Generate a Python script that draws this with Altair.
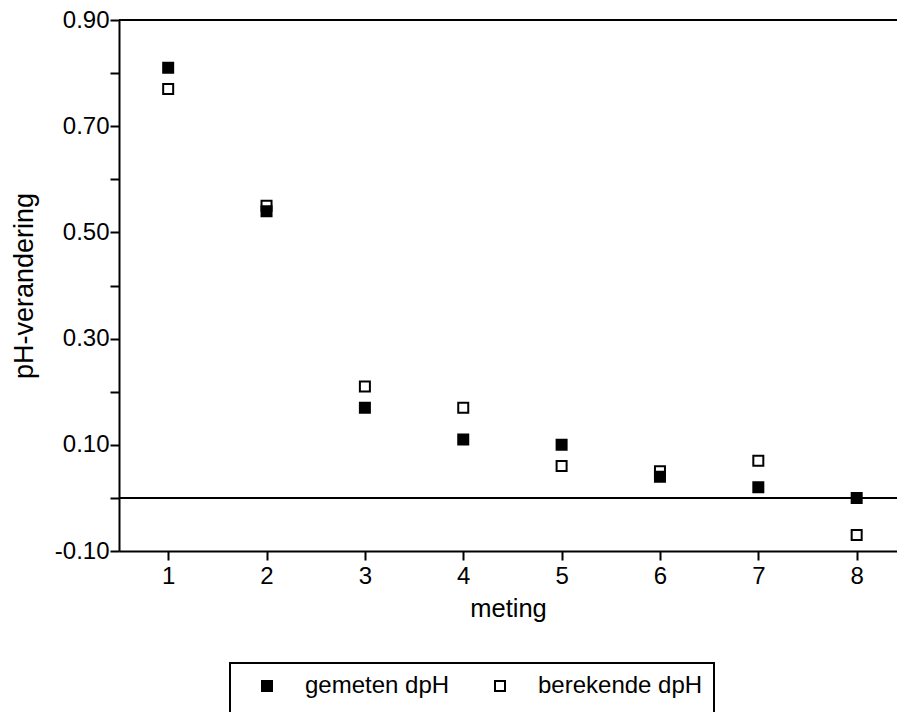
import altair as alt
import pandas as pd

meting = [1, 2, 3, 4, 5, 6, 7, 8]
gemeten = [0.81, 0.54, 0.17, 0.11, 0.10, 0.04, 0.02, 0.00]
berekende = [0.77, 0.55, 0.21, 0.17, 0.06, 0.05, 0.07, -0.07]
series_names = ["gemeten dpH", "berekende dpH"]
y_ticks = [-0.1, 0.0, 0.1, 0.2, 0.3, 0.4, 0.5, 0.6, 0.7, 0.8, 0.9]
x_ticks = [1, 2, 3, 4, 5, 6, 7, 8]
ref_lines = [0.9, 0.0]

rows = []
for m, v in zip(meting, berekende):
    rows.append({"meting": m, "dpH": v, "serie": series_names[1]})
for m, v in zip(meting, gemeten):
    rows.append({"meting": m, "dpH": v, "serie": series_names[0]})
df = pd.DataFrame(rows)

FONT = "Liberation Sans"

xscale = alt.Scale(domain=[0.5, 8.41], nice=False, zero=False)
yscale = alt.Scale(domain=[-0.1, 0.9], nice=False, zero=False)

points = alt.Chart(df).mark_point(
    shape="square", filled=True, size=100, stroke="black", strokeWidth=2, opacity=1
).encode(
    x=alt.X("meting:Q", scale=xscale,
            axis=alt.Axis(title="meting", values=x_ticks, format="d")),
    y=alt.Y("dpH:Q", scale=yscale,
            axis=alt.Axis(
                title="pH-verandering", values=y_ticks,
                labelExpr="abs(round(datum.value*10)) % 2 == 1 ? (datum.value < 0 ? '-' + format(-datum.value, '.2f') : format(datum.value, '.2f')) : ''")),
    fill=alt.Fill("serie:N",
                  scale=alt.Scale(domain=series_names, range=["black", "white"]),
                  legend=alt.Legend(title=" ", titleOrient="bottom")),
)

rules = alt.Chart(pd.DataFrame({"v": ref_lines})).mark_rule(
    color="black", strokeWidth=2
).encode(y=alt.Y("v:Q", scale=yscale))

chart = alt.layer(rules, points).properties(
    width=778,
    height=531,
    autosize=alt.AutoSizeParams(type="none"),
    padding={"left": 119, "top": 20, "right": 0, "bottom": 161},
    background="white",
).configure_view(
    stroke=None
).configure_axis(
    grid=False,
    domainColor="black",
    domainWidth=2,
    tickColor="black",
    tickWidth=2,
    tickSize=9,
    labelColor="black",
    labelFont=FONT,
    labelFontSize=24,
    titleColor="black",
    titleFont=FONT,
    titleFontSize=25.5,
    titleFontWeight="normal",
).configure_axisY(
    labelPadding=1,
    titlePadding=16,
    titleFontSize=27,
).configure_axisX(
    labelPadding=4,
    titlePadding=8,
).configure_legend(
    orient="none",
    legendX=111,
    legendY=643,
    direction="horizontal",
    strokeColor="black",
    strokeWidth=2,
    padding=11,
    symbolType="square",
    symbolSize=100,
    symbolStrokeColor="black",
    symbolStrokeWidth=2,
    symbolOffset=14,
    labelFont=FONT,
    labelFontSize=24,
    labelColor="black",
    labelOffset=26,
    labelLimit=400,
    columnPadding=24,
    titleFontSize=20,
    titlePadding=0,
)

chart.save("out.html", embed_options={"renderer": "svg", "actions": False})
